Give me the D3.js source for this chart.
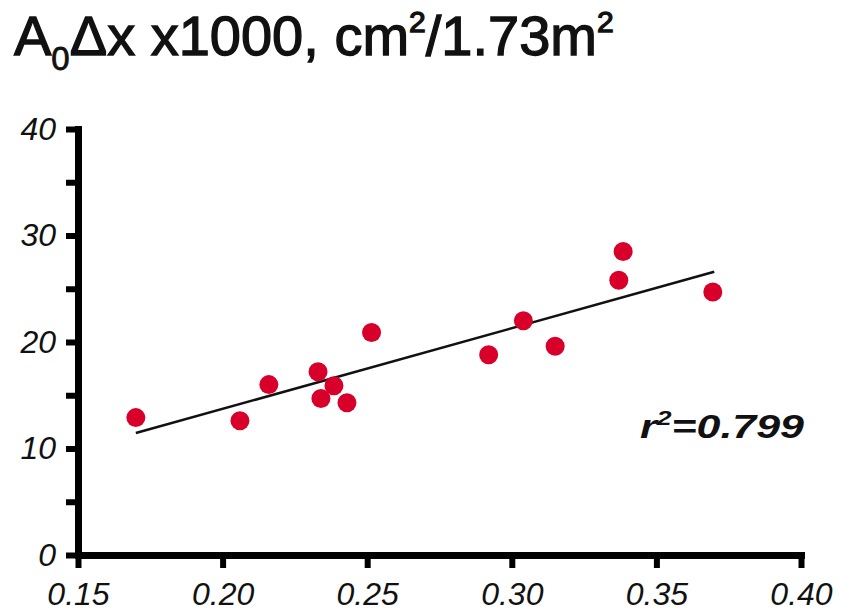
<!DOCTYPE html>
<html>
<head>
<meta charset="utf-8">
<script src="https://cdn.jsdelivr.net/npm/d3@7"></script>
<style>
  body { margin: 0; background: #fff; }
  svg text { font-family: "Liberation Sans", Arial, Helvetica, sans-serif; }
</style>
</head>
<body>
<svg id="chart" width="843" height="613"></svg>
<script>
// --- data ---
const xVals = [0.170, 0.206, 0.216, 0.233, 0.234, 0.2385, 0.243, 0.2515, 0.292, 0.304, 0.315, 0.337, 0.3385, 0.3695];
const yVals = [12.9, 12.6, 16.0, 17.2, 14.7, 15.9, 14.3, 20.9, 18.8, 22.0, 19.6, 25.8, 28.5, 24.7];

// fitted line, two ends
const fitX = [0.170, 0.370];
const fitY = [11.45, 26.6];

const xTicks = [0.15, 0.20, 0.25, 0.30, 0.35, 0.40];
const yTicks = [0, 5, 10, 15, 20, 25, 30, 35, 40];

const svg = d3.select("#chart");

const x = d3.scaleLinear().domain([0.15, 0.40]).range([78, 801]);
const y = d3.scaleLinear().domain([0, 40]).range([555, 129]);

// --- title ---
const title = svg.append("text")
    .attr("x", 14)
    .attr("y", 55)
    .style("font-size", "56px")
    .style("fill", "#111")
    .style("stroke", "#111")
    .style("stroke-width", 1.3);
title.append("tspan").text("A");
title.append("tspan").attr("dy", 15).style("font-size", "33px").style("stroke-width", 0.8).text("0");
title.append("tspan").attr("dy", -15).text("\u0394x x1000, cm");
title.append("tspan").attr("dy", -23).style("font-size", "30px").text("2");
title.append("tspan").attr("dy", 23).text("/1.73m");
title.append("tspan").attr("dy", -23).style("font-size", "30px").text("2");

// --- axes ---
const xAxis = svg.append("g")
    .attr("transform", `translate(0,${y(0)})`)
    .call(d3.axisBottom(x)
        .tickValues(xTicks)
        .tickSize(13)
        .tickSizeOuter(0)
        .tickPadding(14)
        .tickFormat(d3.format(".2f")));

const yAxis = svg.append("g")
    .attr("transform", `translate(${x(0.15)},0)`)
    .call(d3.axisLeft(y)
        .tickValues(yTicks)
        .tickSize(12)
        .tickSizeOuter(0)
        .tickPadding(10)
        .tickFormat(d => d % 10 === 0 ? d : ""));

[xAxis, yAxis].forEach(g => {
    g.select(".domain")
        .attr("stroke", "#000")
        .attr("stroke-width", 7)
        .attr("stroke-linecap", "square");
    g.selectAll(".tick line")
        .attr("stroke", "#000")
        .attr("stroke-width", 6);
    g.selectAll(".tick text")
        .attr("fill", "#111")
        .style("font-size", "32px")
        .style("font-style", "italic")
        .style("font-family", "'Liberation Sans', Arial, sans-serif");
});

// --- fit line ---
svg.append("line")
    .attr("x1", x(fitX[0])).attr("y1", y(fitY[0]))
    .attr("x2", x(fitX[1])).attr("y2", y(fitY[1]))
    .attr("stroke", "#111")
    .attr("stroke-width", 2.5);

// --- points ---
svg.selectAll(".dot")
    .data(xVals.map((v, i) => ({ x: v, y: yVals[i] })))
    .enter()
    .append("circle")
    .attr("class", "dot")
    .attr("cx", d => x(d.x))
    .attr("cy", d => y(d.y))
    .attr("r", 9.5)
    .attr("fill", "#d8002b");

// --- r² label ---
const rText = svg.append("text")
    .attr("x", 640)
    .attr("y", 438)
    .attr("textLength", 164)
    .attr("lengthAdjust", "spacingAndGlyphs")
    .style("font-size", "34px")
    .style("font-weight", "bold")
    .style("font-style", "italic")
    .style("fill", "#111");
rText.append("tspan").text("r");
rText.append("tspan").attr("dy", -13).style("font-size", "21px").text("2");
rText.append("tspan").attr("dy", 13).text("=0.799");
</script>
</body>
</html>
